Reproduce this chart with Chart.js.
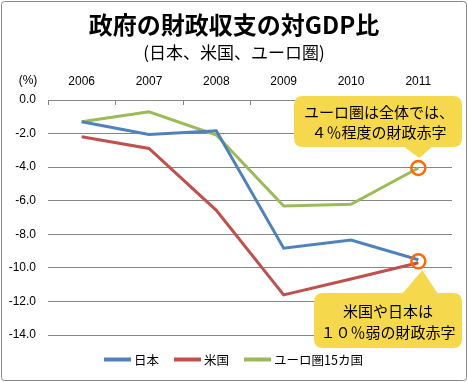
<!DOCTYPE html>
<html><head><meta charset="utf-8">
<script src="https://cdn.jsdelivr.net/npm/chart.js@4/dist/chart.umd.min.js"></script>
<style>html,body{margin:0;padding:0;background:#fff;}#wrap{width:468px;height:382px;position:relative;}</style>
</head><body><div id="wrap"><canvas id="c" width="468" height="382"></canvas></div>
<script>
const years = ['2006','2007','2008','2009','2010','2011'];
const japan = [-1.3, -2.05, -1.83, -8.83, -8.34, -9.52];
const usa   = [-2.19, -2.89, -6.57, -11.61, -10.66, -9.70];
const euro  = [-1.3, -0.7, -2.09, -6.31, -6.21, -4.05];
const seriesNames = ['日本', '米国', 'ユーロ圏15カ国'];
const titleText = '政府の財政収支の対GDP比';
const subtitleText = '(日本、米国、ユーロ圏)';
const unitText = '(%)';
const note1 = ['ユーロ圏は全体では、', '４％程度の財政赤字'];
const note2 = ['米国や日本は', '１０％弱の財政赤字'];

const JP = '"Noto Sans CJK JP", sans-serif';
const NUM = '"Liberation Sans", Arial, sans-serif';
const colors = ['#4F81BD', '#C0504D', '#9BBB59'];
const last = years.length - 1;
const circleEuro = years.map((_, i) => i === last ? euro[last] : null);
const circleJU = years.map((_, i) => i === last ? (japan[last] + usa[last]) / 2 : null);

function roundRect(ctx, x, y, w, h, r) {
  ctx.beginPath();
  ctx.moveTo(x + r, y);
  ctx.lineTo(x + w - r, y);
  ctx.quadraticCurveTo(x + w, y, x + w, y + r);
  ctx.lineTo(x + w, y + h - r);
  ctx.quadraticCurveTo(x + w, y + h, x + w - r, y + h);
  ctx.lineTo(x + r, y + h);
  ctx.quadraticCurveTo(x, y + h, x, y + h - r);
  ctx.lineTo(x, y + r);
  ctx.quadraticCurveTo(x, y, x + r, y);
  ctx.closePath();
}

const deco = {
  id: 'deco',
  beforeDraw(chart) {
    const ctx = chart.ctx;
    ctx.save();
    ctx.fillStyle = '#fff';
    ctx.fillRect(0, 0, chart.width, chart.height);
    ctx.restore();
  },
  afterDraw(chart) {
    const ctx = chart.ctx;
    const xs = chart.scales.x;
    const ys = chart.scales.y;
    const ca = chart.chartArea;
    ctx.save();
    const step = xs.getPixelForTick(1) - xs.getPixelForTick(0);
    ctx.strokeStyle = '#868686';
    ctx.lineWidth = 1;
    for (let i = 0; i <= years.length; i++) {
      const x = Math.round(xs.getPixelForTick(0) - step / 2 + i * step) + 0.5;
      ctx.beginPath(); ctx.moveTo(x, ca.top); ctx.lineTo(x, ca.top + 5); ctx.stroke();
    }
    ctx.fillStyle = '#000';
    ctx.textAlign = 'center';
    ctx.textBaseline = 'middle';
    ctx.font = 'bold 24px ' + JP;
    ctx.fillText(titleText, 234, 25);
    ctx.font = '17px ' + JP;
    ctx.fillText(subtitleText, 234, 53);
    ctx.font = '12px ' + NUM;
    ctx.fillText(unitText, 28, 81);
    const x11 = xs.getPixelForValue(last);
    const yE = ys.getPixelForValue(euro[last]);
    const yJ = ys.getPixelForValue((japan[last] + usa[last]) / 2);
    ctx.fillStyle = '#F6D84C';
    roundRect(ctx, 294, 96, 168, 51, 9); ctx.fill();
    ctx.beginPath(); ctx.moveTo(403, 146); ctx.lineTo(x11 + 1, yE - 10); ctx.lineTo(433, 146); ctx.closePath(); ctx.fill();
    roundRect(ctx, 314, 293, 148, 55, 9); ctx.fill();
    ctx.beginPath(); ctx.moveTo(402, 294); ctx.lineTo(x11 + 4, yJ + 9); ctx.lineTo(438, 294); ctx.closePath(); ctx.fill();
    ctx.fillStyle = '#000';
    ctx.font = '15px ' + JP;
    ctx.fillText(note1[0], 379, 112);
    ctx.fillText(note1[1], 379, 132);
    ctx.fillText(note2[0], 388, 311);
    ctx.fillText(note2[1], 388, 332);
    const lx = [104, 174, 244];
    ctx.textAlign = 'left';
    ctx.font = '12.5px ' + JP;
    for (let i = 0; i < 3; i++) {
      ctx.strokeStyle = colors[i];
      ctx.lineWidth = 4;
      ctx.beginPath(); ctx.moveTo(lx[i], 359.5); ctx.lineTo(lx[i] + 27, 359.5); ctx.stroke();
      ctx.fillStyle = '#000';
      ctx.fillText(seriesNames[i], lx[i] + 30, 360);
    }
    ctx.strokeStyle = '#888';
    ctx.lineWidth = 1;
    roundRect(ctx, 1.5, 1.5, 465, 379, 3); ctx.stroke();
    ctx.restore();
  }
};

const lineDs = (label, data, color) => ({
  label, data, borderColor: color, backgroundColor: color, borderWidth: 3,
  pointRadius: 0, tension: 0, fill: false, order: 2
});
const circleDs = (data) => ({
  data, showLine: false, pointRadius: 7, pointBorderWidth: 2.5,
  pointBorderColor: '#FF6A00', pointBackgroundColor: 'rgba(0,0,0,0)', order: 1
});

new Chart(document.getElementById('c'), {
  type: 'line',
  data: {
    labels: years,
    datasets: [
      lineDs(seriesNames[0], japan, colors[0]),
      lineDs(seriesNames[1], usa, colors[1]),
      lineDs(seriesNames[2], euro, colors[2]),
      circleDs(circleEuro),
      circleDs(circleJU)
    ]
  },
  options: {
    responsive: false,
    animation: false,
    devicePixelRatio: 1,
    layout: { padding: { left: 0, right: 16, top: 70, bottom: 47 } },
    plugins: { legend: { display: false }, title: { display: false }, tooltip: { enabled: false } },
    scales: {
      x: {
        position: 'top',
        offset: true,
        grid: { display: false, offset: true, drawTicks: false },
        border: { display: true, color: '#868686', width: 1 },
        ticks: { color: '#000', font: { family: NUM, size: 12 }, padding: 11, maxRotation: 0, autoSkip: false },
        afterFit(s) { s.height = 30; }
      },
      y: {
        min: -14, max: 0,
        ticks: { stepSize: 2, color: '#000', font: { family: NUM, size: 12 }, padding: 12,
                 callback: v => v.toFixed(1) },
        grid: { color: '#868686', lineWidth: 1, drawTicks: false },
        border: { display: false },
        afterFit(s) { s.width = 48; }
      }
    }
  },
  plugins: [deco]
});
</script>
</body></html>
